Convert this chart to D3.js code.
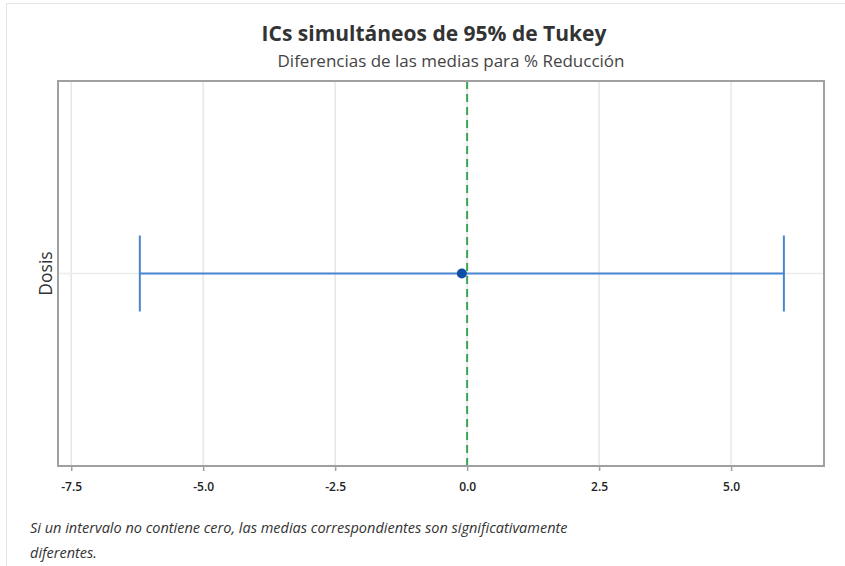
<!DOCTYPE html>
<html><head><meta charset="utf-8">
<script src="https://cdn.jsdelivr.net/npm/d3@7"></script>
<style>
body{margin:0;background:#fff;}
svg{display:block;font-family:"Open Sans","Noto Sans",sans-serif;}
</style></head>
<body><svg id="c" width="845" height="566"></svg>
<script>
const categories = ["Dosis"];
const centers = [-0.1];
const lowers = [-6.2];
const uppers = [6.0];
const xTicks = [-7.5, -5.0, -2.5, 0.0, 2.5, 5.0];
const title = "ICs simultáneos de 95% de Tukey";
const subtitle = "Diferencias de las medias para % Reducción";
const yTitle = "Dosis";
const note = ["Si un intervalo no contiene cero, las medias correspondientes son significativamente", "diferentes."];

const svg = d3.select("#c");
const L = 58, R = 824, T = 81, B = 466;
const x = d3.scaleLinear().domain([-7.75, 6.76]).range([L, R]);
const y = d3.scaleBand().domain(categories).range([T, B]);

// faint outer border
svg.append("rect").attr("x",6.5).attr("y",3.5).attr("width",860).attr("height",600)
  .attr("fill","none").attr("stroke","#e4e4e4");

// gridlines
svg.append("g").selectAll("line").data(xTicks).join("line")
  .attr("x1",d=>x(d)).attr("x2",d=>x(d)).attr("y1",T).attr("y2",B)
  .attr("stroke","#e6e6e6").attr("stroke-width",1.5);
svg.append("g").selectAll("line").data(categories).join("line")
  .attr("x1",L).attr("x2",R).attr("y1",d=>y(d)+y.bandwidth()/2).attr("y2",d=>y(d)+y.bandwidth()/2)
  .attr("stroke","#ececec").attr("stroke-width",1.5);

// zero reference line
svg.append("line").attr("x1",x(0)).attr("x2",x(0)).attr("y1",T).attr("y2",B)
  .attr("stroke","#3aa655").attr("stroke-width",2).attr("stroke-dasharray","8,5");

// frame
svg.append("rect").attr("x",L).attr("y",T).attr("width",R-L).attr("height",B-T)
  .attr("fill","none").attr("stroke","#a0a0a0").attr("stroke-width",2);

// x axis
const fmt = d3.format(".1f");
const ax = svg.append("g").attr("transform",`translate(0,${B})`)
  .call(d3.axisBottom(x).tickValues(xTicks).tickFormat(d=>fmt(d).replace("\u2212","-")).tickSize(5).tickSizeOuter(0));
ax.select(".domain").remove();
ax.selectAll(".tick line").attr("stroke","#a0a0a0").attr("stroke-width",1.5);
ax.selectAll(".tick text").attr("font-size",12).attr("font-weight",600).attr("fill","#222").attr("dy","1.45em")
  .attr("font-family","'Open Sans',sans-serif");

// intervals
const data = categories.map((c,i)=>({c, m:centers[i], lo:lowers[i], hi:uppers[i]}));
const g = svg.append("g");
const capH = 38;
data.forEach(d=>{
  const yc = y(d.c)+y.bandwidth()/2;
  g.append("line").attr("x1",x(d.lo)).attr("x2",x(d.hi)).attr("y1",yc).attr("y2",yc)
    .attr("stroke","#4a86d0").attr("stroke-width",2);
  [d.lo,d.hi].forEach(v=>g.append("line").attr("x1",x(v)).attr("x2",x(v))
    .attr("y1",yc-capH).attr("y2",yc+capH).attr("stroke","#4a86d0").attr("stroke-width",2));
  g.append("circle").attr("cx",x(d.m)).attr("cy",yc).attr("r",5).attr("fill","#0d4ea6");
});

// titles
svg.append("text").attr("x",434).attr("y",41).attr("text-anchor","middle")
  .attr("font-size",21).attr("font-weight","bold").attr("fill","#333").text(title);
svg.append("text").attr("x",451).attr("y",67).attr("text-anchor","middle")
  .attr("font-size",17).attr("fill","#444").text(subtitle);
svg.append("text").attr("transform",`translate(52,${(T+B)/2}) rotate(-90)`).attr("text-anchor","middle")
  .attr("font-size",17.5).attr("fill","#333").text(yTitle);

// footnote
svg.append("g").selectAll("text").data(note).join("text")
  .attr("x",30).attr("y",(d,i)=>533+i*25).attr("font-size",14.5).attr("font-style","italic")
  .attr("fill","#333").text(d=>d);
</script></body></html>
